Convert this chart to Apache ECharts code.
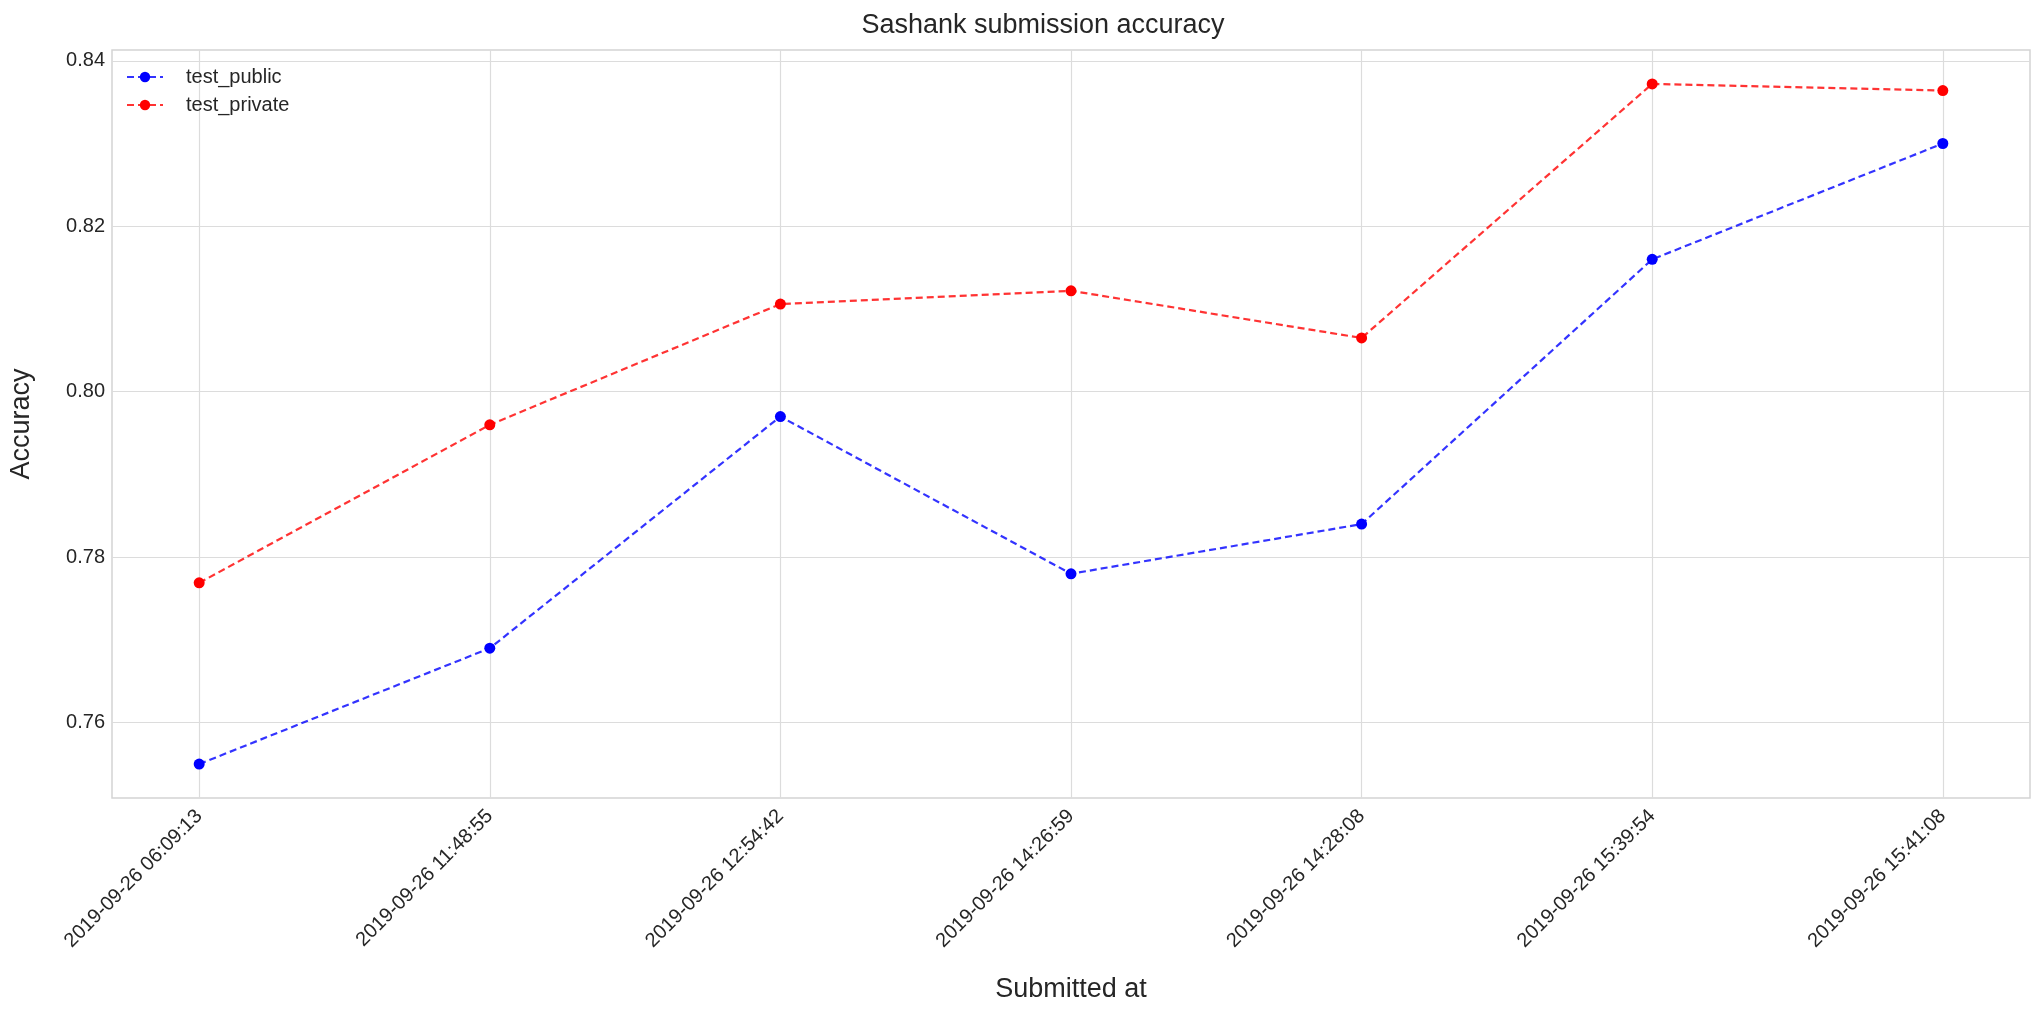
<!DOCTYPE html>
<html>
<head>
<meta charset="utf-8">
<script src="https://cdn.jsdelivr.net/npm/echarts@6/dist/echarts.min.js"></script>
<style>
html,body{margin:0;padding:0;background:#fff;}
#chart{width:2037px;height:1013px;}
</style>
</head>
<body>
<div id="chart"></div>
<script>
const categories = [
  '2019-09-26 06:09:13',
  '2019-09-26 11:48:55',
  '2019-09-26 12:54:42',
  '2019-09-26 14:26:59',
  '2019-09-26 14:28:08',
  '2019-09-26 15:39:54',
  '2019-09-26 15:41:08'
];
const testPublic = [0.755, 0.769, 0.797, 0.778, 0.784, 0.816, 0.830];
const testPrivate = [0.7769, 0.7960, 0.8106, 0.8122, 0.8065, 0.8372, 0.8364];
const yTicks = [0.76, 0.78, 0.80, 0.82, 0.84];

const xIdx = categories.map((c, i) => i);
const FONT = 'Liberation Sans';
const TXT = '#262626';

const chart = echarts.init(document.getElementById('chart'), null, {renderer: 'canvas'});
chart.setOption({
  animation: false,
  backgroundColor: '#ffffff',
  textStyle: {fontFamily: FONT},
  title: {
    text: 'Sashank submission accuracy',
    left: 1038, top: 7, textAlign: 'center',
    textStyle: {fontFamily: FONT, fontSize: 27, fontWeight: 'normal', color: TXT}
  },
  legend: {
    left: 121, top: 62, orient: 'vertical',
    itemWidth: 36, itemHeight: 13, itemGap: 8,
    textStyle: {fontFamily: FONT, fontSize: 20, color: TXT, padding: [0, 0, 0, 18]},
    data: ['test_public', 'test_private']
  },
  grid: {
    left: 110, right: 7, top: 50, bottom: 215,
    show: true, borderColor: '#d4d4d4', borderWidth: 1.5, backgroundColor: 'transparent'
  },
  xAxis: {
    type: 'value', min: -0.3, max: 6.3,
    name: 'Submitted at', nameLocation: 'middle', nameGap: 178,
    nameTextStyle: {fontFamily: FONT, fontSize: 27, color: TXT},
    axisLine: {show: false},
    axisTick: {show: false, customValues: xIdx},
    axisLabel: {
      customValues: xIdx, rotate: 45, margin: 15,
      fontFamily: FONT, fontSize: 20, color: TXT,
      formatter: v => categories[Math.round(v)] || ''
    },
    splitLine: {show: true, lineStyle: {color: '#dcdcdc', width: 1.2}}
  },
  yAxis: {
    type: 'value', min: 0.7509, max: 0.8413,
    name: 'Accuracy', nameLocation: 'middle', nameGap: 77,
    nameTextStyle: {fontFamily: FONT, fontSize: 27, color: TXT},
    axisLine: {show: false},
    axisTick: {show: false, customValues: yTicks},
    axisLabel: {
      customValues: yTicks, margin: 7,
      fontFamily: FONT, fontSize: 20, color: TXT,
      formatter: v => v.toFixed(2)
    },
    splitLine: {show: true, lineStyle: {color: '#dcdcdc', width: 1.2}}
  },
  series: [
    {
      name: 'test_public', type: 'line',
      data: xIdx.map(i => [i, testPublic[i]]),
      symbol: 'circle', symbolSize: 11,
      itemStyle: {color: '#0000ff'},
      lineStyle: {color: 'rgba(0,0,255,0.8)', width: 2.2, type: [7, 4]}
    },
    {
      name: 'test_private', type: 'line',
      data: xIdx.map(i => [i, testPrivate[i]]),
      symbol: 'circle', symbolSize: 11,
      itemStyle: {color: '#ff0000'},
      lineStyle: {color: 'rgba(255,0,0,0.8)', width: 2.2, type: [7, 4]}
    }
  ]
});
</script>
</body>
</html>
